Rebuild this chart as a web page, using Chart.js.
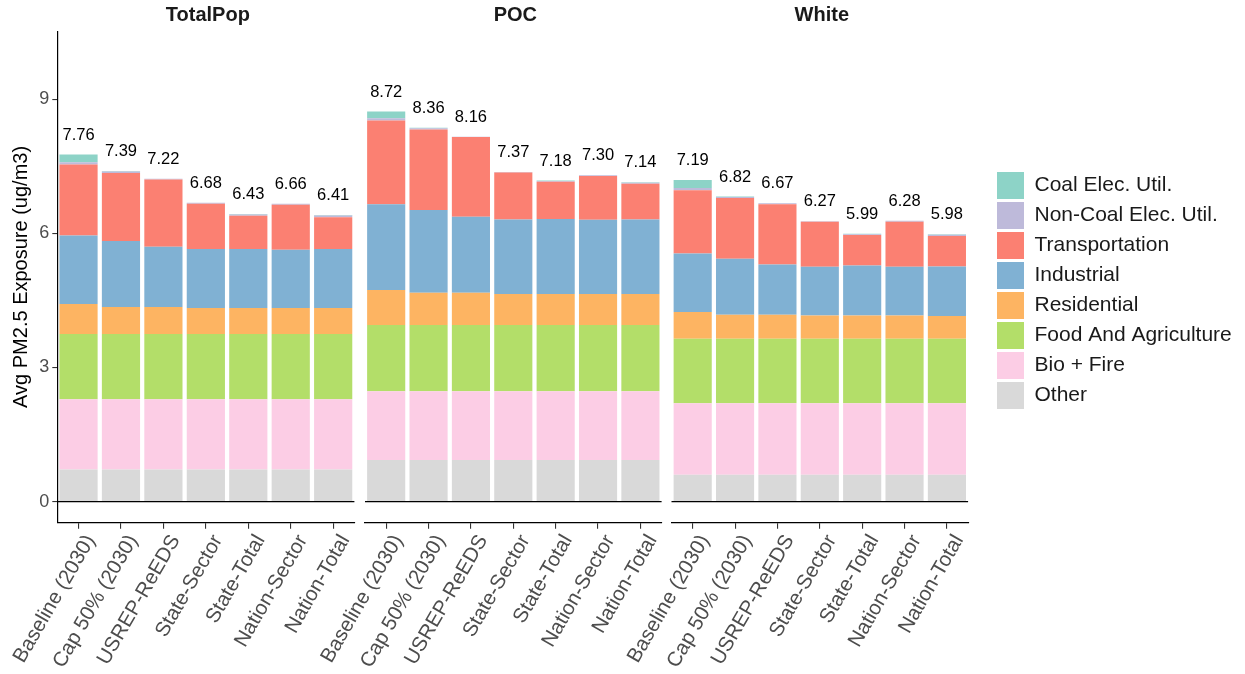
<!DOCTYPE html>
<html>
<head>
<meta charset="utf-8">
<script src="https://cdn.jsdelivr.net/npm/chart.js@4.4.1/dist/chart.umd.min.js"></script>
<style>
  html, body { margin: 0; padding: 0; background: #fff; }
  #wrap { position: relative; width: 1245px; height: 674px; }
  #wrap canvas { position: absolute; left: 0; top: 0; }
</style>
</head>
<body>
<div id="wrap">
  <canvas id="panel0" width="1245" height="674"></canvas>
  <canvas id="panel1" width="1245" height="674"></canvas>
  <canvas id="panel2" width="1245" height="674"></canvas>
  <canvas id="legend" width="1245" height="674"></canvas>
</div>
<script>
// Scenarios on the x axis, population groups as facets
const scenarios = ['Baseline (2030)', 'Cap 50% (2030)', 'USREP-ReEDS', 'State-Sector', 'State-Total', 'Nation-Sector', 'Nation-Total'];
const groups = ['TotalPop', 'POC', 'White'];

// Sectors, listed bottom of the stack to top
const sectors = ['Other', 'Bio + Fire', 'Food And Agriculture', 'Residential', 'Industrial', 'Transportation', 'Non-Coal Elec. Util.', 'Coal Elec. Util.'];
const sectorColors = ['#D9D9D9', '#FCCDE5', '#B3DE69', '#FDB462', '#80B1D3', '#FB8072', '#BEBADA', '#8DD3C7'];

const yTicks = [0, 3, 6, 9];

// Avg PM2.5 exposure by sector (ug/m3) — total population
const totalPopOther   = [0.72, 0.72, 0.72, 0.72, 0.72, 0.72, 0.72];
const totalPopBio     = [1.57, 1.57, 1.57, 1.57, 1.57, 1.57, 1.57];
const totalPopFood    = [1.46, 1.46, 1.46, 1.46, 1.46, 1.46, 1.46];
const totalPopRes     = [0.67, 0.60, 0.60, 0.58, 0.58, 0.58, 0.58];
const totalPopInd     = [1.53, 1.48, 1.35, 1.32, 1.32, 1.30, 1.32];
const totalPopTrans   = [1.59, 1.52, 1.50, 1.01, 0.74, 1.01, 0.71];
const totalPopNonCoal = [0.05, 0.03, 0.02, 0.02, 0.03, 0.02, 0.04];
const totalPopCoal    = [0.17, 0.01, 0.00, 0.00, 0.01, 0.00, 0.01];

// People of color
const pocOther   = [0.93, 0.93, 0.93, 0.93, 0.93, 0.93, 0.93];
const pocBio     = [1.54, 1.54, 1.54, 1.54, 1.54, 1.54, 1.54];
const pocFood    = [1.48, 1.48, 1.48, 1.48, 1.48, 1.48, 1.48];
const pocRes     = [0.78, 0.72, 0.72, 0.69, 0.69, 0.69, 0.69];
const pocInd     = [1.92, 1.85, 1.70, 1.67, 1.68, 1.66, 1.67];
const pocTrans   = [1.87, 1.80, 1.78, 1.05, 0.83, 0.98, 0.80];
const pocNonCoal = [0.05, 0.03, 0.01, 0.01, 0.02, 0.02, 0.02];
const pocCoal    = [0.15, 0.01, 0.00, 0.00, 0.01, 0.00, 0.01];

// White
const whiteOther   = [0.60, 0.60, 0.60, 0.60, 0.60, 0.60, 0.60];
const whiteBio     = [1.60, 1.60, 1.60, 1.60, 1.60, 1.60, 1.60];
const whiteFood    = [1.44, 1.44, 1.44, 1.44, 1.44, 1.44, 1.44];
const whiteRes     = [0.60, 0.54, 0.54, 0.52, 0.52, 0.52, 0.51];
const whiteInd     = [1.31, 1.25, 1.12, 1.09, 1.12, 1.09, 1.11];
const whiteTrans   = [1.41, 1.36, 1.35, 1.01, 0.68, 1.01, 0.68];
const whiteNonCoal = [0.05, 0.02, 0.02, 0.01, 0.02, 0.02, 0.03];
const whiteCoal    = [0.18, 0.01, 0.00, 0.00, 0.01, 0.00, 0.01];

const groupSeries = [
  [totalPopOther, totalPopBio, totalPopFood, totalPopRes, totalPopInd, totalPopTrans, totalPopNonCoal, totalPopCoal],
  [pocOther, pocBio, pocFood, pocRes, pocInd, pocTrans, pocNonCoal, pocCoal],
  [whiteOther, whiteBio, whiteFood, whiteRes, whiteInd, whiteTrans, whiteNonCoal, whiteCoal]
];

const FONT = '"Liberation Sans", Arial, Helvetica, sans-serif';
const W = 1245;
const Y_MIN = -0.47, Y_MAX = 10.52;

// panel plot-area horizontal extents [left, right]
const panelBounds = [[57.3, 354.4], [365, 661.6], [671.5, 968.1]];

// zero line, bar totals and facet strip title
const panelDecor = {
  id: 'panelDecor',
  afterDatasetsDraw(chart, args, opts) {
    const { ctx, chartArea: a } = chart;
    const x = chart.scales.x, y = chart.scales.y;
    ctx.save();
    const y0 = y.getPixelForValue(0);
    ctx.strokeStyle = '#000';
    ctx.lineWidth = 1.3;
    ctx.beginPath();
    ctx.moveTo(a.left, y0);
    ctx.lineTo(a.right, y0);
    ctx.stroke();

    ctx.fillStyle = '#000';
    ctx.font = '16.5px ' + FONT;
    ctx.textAlign = 'center';
    ctx.textBaseline = 'middle';
    chart.data.labels.forEach((lab, i) => {
      let t = 0;
      chart.data.datasets.forEach(d => { t += d.data[i]; });
      t = Math.round(t * 100) / 100;
      ctx.fillText(t.toFixed(2), x.getPixelForValue(i), y.getPixelForValue(t) - 19.5);
    });

    ctx.fillStyle = '#1A1A1A';
    ctx.font = 'bold 20px ' + FONT;
    ctx.fillText(opts.title, (a.left + a.right) / 2 + 2, 15.5);
    ctx.restore();
  }
};

function makePanel(idx) {
  const [left, right] = panelBounds[idx];
  const first = idx === 0;
  const datasets = sectors.map((s, k) => ({
    label: s,
    data: groupSeries[idx][k],
    backgroundColor: sectorColors[k],
    borderWidth: 0,
    barPercentage: 0.9,
    categoryPercentage: 1.0
  }));
  new Chart(document.getElementById('panel' + idx), {
    type: 'bar',
    data: { labels: scenarios, datasets },
    plugins: [panelDecor],
    options: {
      responsive: false,
      animation: false,
      devicePixelRatio: 1,
      layout: { padding: { left: first ? 0 : left, right: W - right, top: 31.1, bottom: 0 } },
      plugins: {
        legend: { display: false },
        tooltip: { enabled: false },
        panelDecor: { title: groups[idx] }
      },
      scales: {
        x: {
          stacked: true,
          offset: true,
          border: { display: true, color: '#000', width: 1.3 },
          grid: { display: true, drawOnChartArea: false, drawTicks: true, tickLength: 6, offset: false, color: '#333', lineWidth: 1.1 },
          ticks: {
            autoSkip: false, minRotation: 60, maxRotation: 60, padding: 2, labelOffset: 12,
            color: '#4D4D4D', font: { family: FONT, size: 20.5 }
          },
          afterFit(axis) {
            axis.height = 151.3;
            axis.paddingLeft = 0; axis.paddingRight = 0;
            axis.paddingTop = 0; axis.paddingBottom = 0;
          }
        },
        y: {
          stacked: true,
          display: first,
          min: Y_MIN, max: Y_MAX,
          afterBuildTicks(axis) { axis.ticks = yTicks.map(v => ({ value: v })); },
          border: { display: true, color: '#000', width: 1.2 },
          grid: { display: true, drawOnChartArea: false, drawTicks: true, tickLength: 5, color: '#333', lineWidth: 1.1 },
          ticks: { color: '#4D4D4D', font: { family: FONT, size: 18 }, padding: 3 },
          title: {
            display: true, text: 'Avg PM2.5 Exposure (ug/m3)', color: '#000',
            font: { family: FONT, size: 20 }, padding: { top: 9, bottom: 0 }
          },
          afterFit(axis) {
            axis.width = first ? 57.3 : 0;
            axis.paddingTop = 0; axis.paddingBottom = 0;
          }
        }
      }
    }
  });
}

groups.forEach((g, i) => makePanel(i));

// Sector legend, Coal at the top
new Chart(document.getElementById('legend'), {
  type: 'bar',
  data: {
    labels: [],
    datasets: sectors.map((s, k) => ({ label: s, data: [], backgroundColor: sectorColors[k], borderWidth: 0 }))
  },
  options: {
    responsive: false,
    animation: false,
    devicePixelRatio: 1,
    layout: { padding: { left: 994, right: 0, top: 0, bottom: 93 } },
    scales: { x: { display: false }, y: { display: false } },
    plugins: {
      tooltip: { enabled: false },
      legend: {
        position: 'chartArea',
        align: 'center',
        reverse: true,
        labels: {
          boxWidth: 27, boxHeight: 27, padding: 3,
          color: '#1A1A1A', font: { family: FONT, size: 21 }
        }
      }
    }
  }
});
</script>
</body>
</html>
